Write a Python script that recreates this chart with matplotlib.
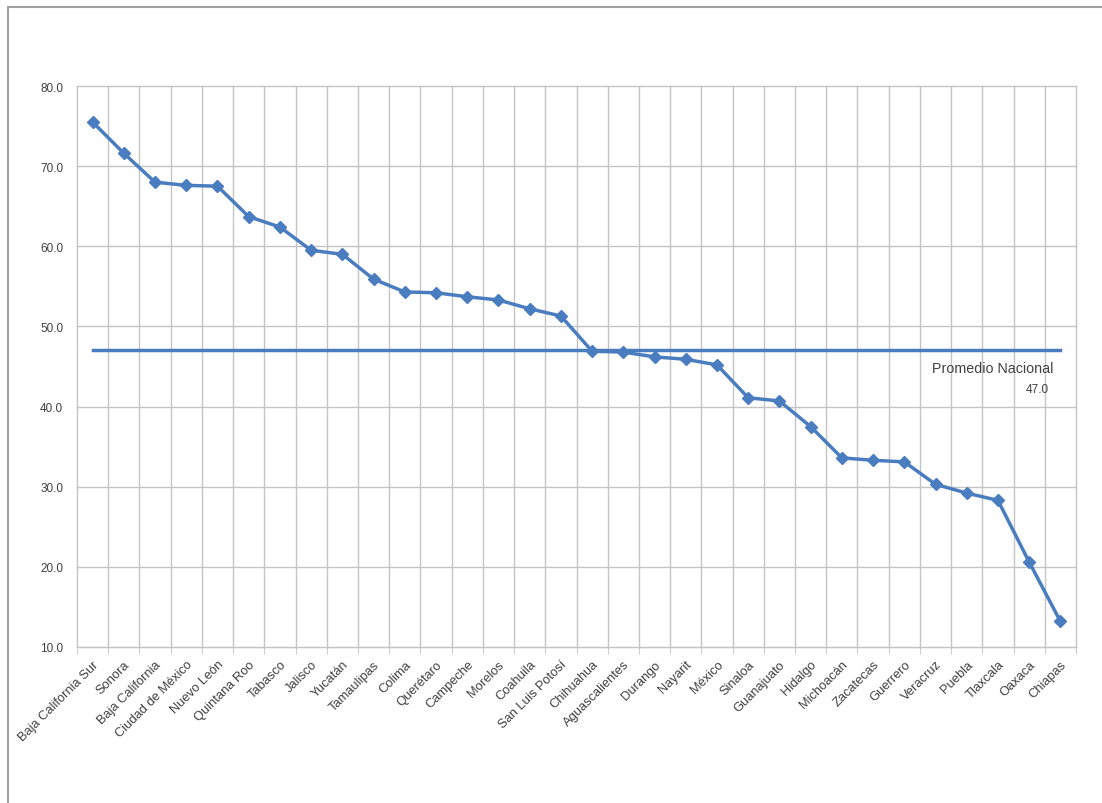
import matplotlib.pyplot as plt
from matplotlib.patches import Rectangle

plt.rcParams["font.family"] = ["Liberation Sans", "DejaVu Sans"]

# Data
estados = ["Baja California Sur", "Sonora", "Baja California", "Ciudad de México",
           "Nuevo León", "Quintana Roo", "Tabasco", "Jalisco", "Yucatán",
           "Tamaulipas", "Colima", "Querétaro", "Campeche", "Morelos", "Coahuila",
           "San Luis Potosí", "Chihuahua", "Aguascalientes", "Durango", "Nayarit",
           "México", "Sinaloa", "Guanajuato", "Hidalgo", "Michoacán", "Zacatecas",
           "Guerrero", "Veracruz", "Puebla", "Tlaxcala", "Oaxaca", "Chiapas"]
valores = [75.5, 71.6, 68.0, 67.6, 67.5, 63.7, 62.4, 59.5, 59.0, 55.9, 54.3,
           54.2, 53.7, 53.3, 52.2, 51.3, 46.9, 46.8, 46.2, 45.9, 45.2, 41.1,
           40.7, 37.5, 33.6, 33.3, 33.1, 30.3, 29.2, 28.3, 20.6, 13.2]
promedio = 47.0
y_ticks = [10, 20, 30, 40, 50, 60, 70, 80]

azul = "#4a7dc0"
gris = "#c4c4c4"
texto = "#404040"

fig = plt.figure(figsize=(11.02, 8.04), dpi=100)
fig.patches.append(Rectangle((8 / 1102, -0.01), 1.02, 1 - 8 / 804 + 0.01,
                             transform=fig.transFigure, fill=False,
                             edgecolor="#a0a0a0", linewidth=1.5))

ax = fig.add_axes([77 / 1102, 1 - 648 / 804, (1076 - 77) / 1102, (648 - 87) / 804])
x = list(range(len(estados)))

# vertical gridlines between categories
for b in range(len(estados) + 1):
    ax.axvline(b - 0.5, color=gris, linewidth=1, zorder=0, clip_on=False)
for t in y_ticks:
    ax.axhline(t, color=gris, linewidth=1, zorder=0, clip_on=False)

ax.plot([x[0], x[-1]], [promedio, promedio], color=azul, linewidth=2.5, zorder=2)
ax.plot(x, valores, color=azul, linewidth=2.5, marker="D", markersize=6.5,
        markeredgecolor=azul, zorder=3)

ax.text(x[-5] - 0.1, promedio - 2.2, "Promedio Nacional", fontsize=10.3, color=texto,
        ha="left", va="center")
ax.text(x[-2] - 0.1, promedio - 4.8, f"{promedio:.1f}", fontsize=8.5, color=texto,
        ha="left", va="center")

ax.set_xlim(-0.5, len(estados) - 0.5)
ax.set_ylim(10, 80)
ax.set_yticks(y_ticks)
ax.set_yticklabels([f"{t:.1f}" for t in y_ticks], fontsize=8.5, color=texto)
ax.set_xticks(x)
ax.set_xticklabels(estados, rotation=45, ha="right", rotation_mode="anchor",
                   fontsize=9.3, color=texto)
ax.set_xticks([b - 0.5 for b in range(len(estados) + 1)], minor=True)
ax.tick_params(axis="x", which="major", length=0, pad=8)
ax.tick_params(axis="x", which="minor", length=5, color=gris)
ax.tick_params(axis="y", length=0, pad=10)
for s in ["top", "right", "left"]:
    ax.spines[s].set_visible(False)
ax.spines["bottom"].set_color(gris)

fig.savefig("out.png", dpi=100)
